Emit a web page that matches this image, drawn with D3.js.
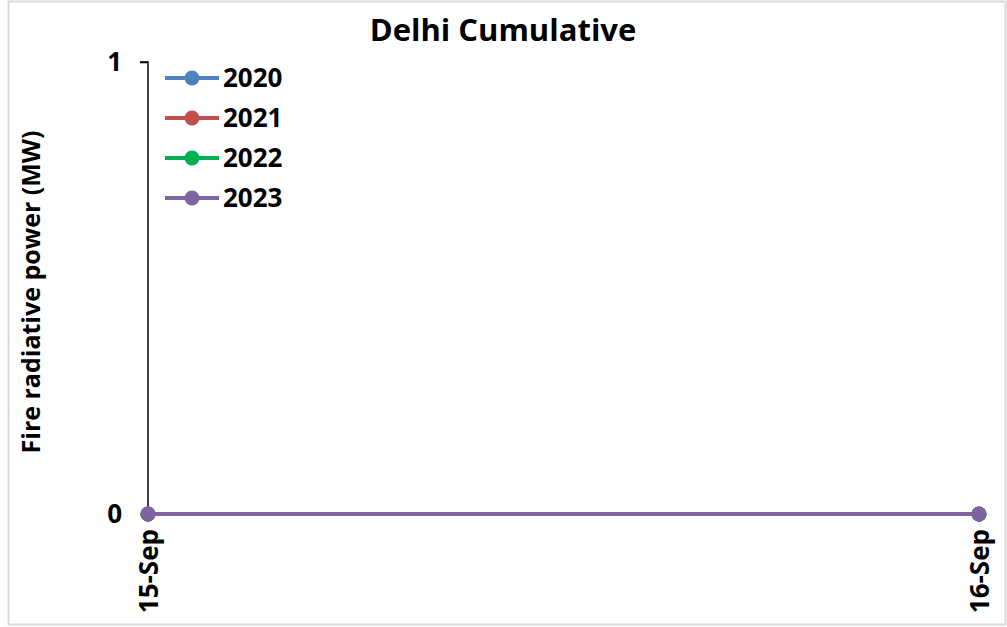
<!DOCTYPE html>
<html>
<head>
<meta charset="utf-8">
<script src="https://cdn.jsdelivr.net/npm/d3@7"></script>
<style>
  html, body { margin: 0; padding: 0; background: #fff; }
  svg { display: block; font-family: "Open Sans", sans-serif; font-weight: bold; }
</style>
</head>
<body>
<svg id="chart" width="1007" height="627"></svg>
<script>
const W = 1007, H = 627;
const dates = ["15-Sep", "16-Sep"];
const years = ["2020", "2021", "2022", "2023"];
const colors = ["#4F81BD", "#C0504D", "#00B050", "#8064A2"];
const values = {
  "2020": [0, 0],
  "2021": [0, 0],
  "2022": [0, 0],
  "2023": [0, 0]
};
const yTicks = [0, 1];
const FONT = "'Open Sans', sans-serif";

const svg = d3.select("#chart");

// outer frame
svg.append("rect").attr("x", 8.5).attr("y", 1.5).attr("width", 997).attr("height", 623)
  .attr("fill", "#fff").attr("stroke", "#d9d9d9").attr("stroke-width", 2);

const x = d3.scalePoint().domain(dates).range([148, 979]);
const y = d3.scaleLinear().domain([0, 1]).range([514, 62]);

// title
svg.append("text").attr("x", 503).attr("y", 41).attr("text-anchor", "middle")
  .attr("font-size", 31).text("Delhi Cumulative");

// y axis
const yAxis = svg.append("g").attr("transform", "translate(148,0)")
  .call(d3.axisLeft(y).tickValues(yTicks).tickFormat(d3.format("d")).tickSize(8).tickPadding(18));
yAxis.select(".domain").attr("stroke", "#000").attr("stroke-width", 1.5).attr("d", "M-8,62H0V514");
yAxis.selectAll(".tick line").attr("stroke", "#000").attr("stroke-width", 1.5);
yAxis.selectAll(".tick text").attr("font-size", 26).attr("font-weight", "bold")
  .attr("font-family", FONT).attr("fill", "#000");

// x axis
const xAxis = svg.append("g").attr("transform", "translate(0,514)")
  .call(d3.axisBottom(x).tickSize(8).tickPadding(14));
xAxis.select(".domain").attr("stroke", "#000").attr("stroke-width", 1.5).attr("d", "M148,0H979");
xAxis.selectAll(".tick line").attr("stroke", "#000").attr("stroke-width", 1.5);
xAxis.selectAll(".tick text")
  .attr("font-size", 26).attr("font-weight", "bold")
  .attr("font-family", FONT).attr("fill", "#000")
  .attr("text-anchor", "end").attr("dy", null).attr("y", 0)
  .attr("transform", "translate(9,15) rotate(-90)");

// y label
svg.append("text").attr("transform", "translate(40,292) rotate(-90)")
  .attr("text-anchor", "middle").attr("font-size", 25).text("Fire radiative power (MW)");

// series
const line = d3.line().x((d, i) => x(dates[i])).y(d => y(d));
years.forEach((yr, k) => {
  svg.append("path").datum(values[yr]).attr("d", line)
    .attr("fill", "none").attr("stroke", colors[k]).attr("stroke-width", 4);
  svg.selectAll(null).data(values[yr]).enter().append("circle")
    .attr("cx", (d, i) => x(dates[i])).attr("cy", d => y(d)).attr("r", 7.5)
    .attr("fill", colors[k]);
});

// legend
const lg = svg.append("g");
years.forEach((yr, k) => {
  const ly = 78 + k * 40;
  lg.append("line").attr("x1", 165).attr("x2", 219).attr("y1", ly).attr("y2", ly)
    .attr("stroke", colors[k]).attr("stroke-width", 4);
  lg.append("circle").attr("cx", 192).attr("cy", ly).attr("r", 7.5).attr("fill", colors[k]);
  lg.append("text").attr("x", 223).attr("y", ly + 9).attr("font-size", 26).text(yr);
});
</script>
</body>
</html>
